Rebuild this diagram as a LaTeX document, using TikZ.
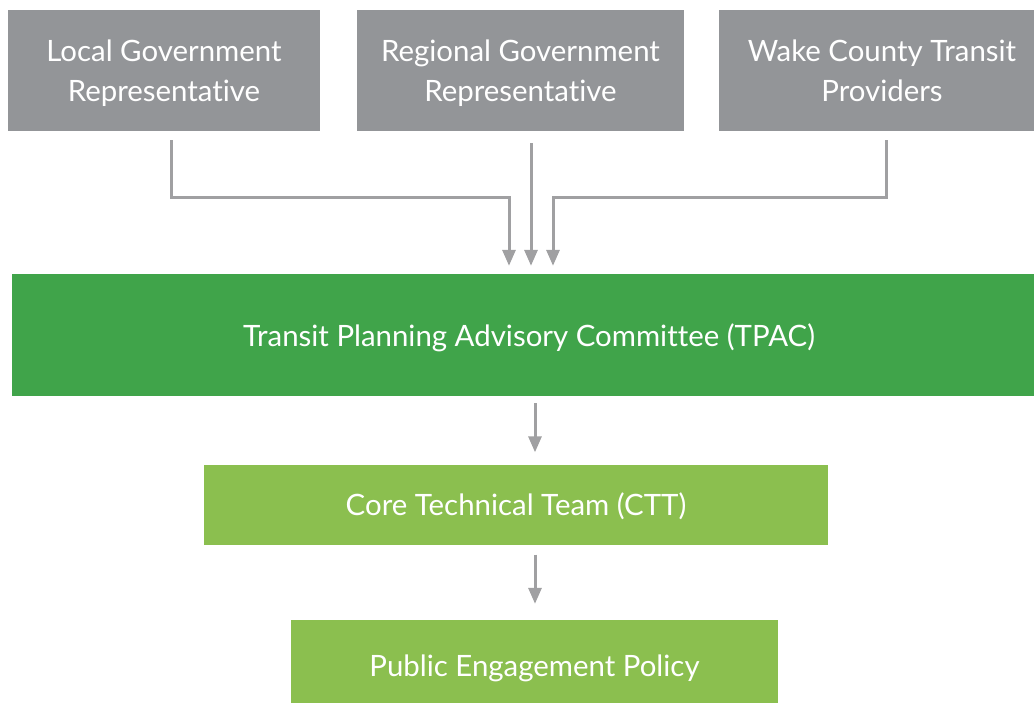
\documentclass[tikz,border=0pt]{standalone}
\usepackage{fontspec}
\setmainfont{Lato}[Ligatures=NoCommon]
\usepackage{xcolor}
\usepackage{tikz}
\usetikzlibrary{arrows.meta}

\definecolor{boxgray}{HTML}{939598}
\definecolor{linegray}{HTML}{A0A0A2}
\definecolor{darkgreen}{HTML}{40A44A}
\definecolor{lightgreen}{HTML}{8BBF4F}

\begin{document}
\begin{tikzpicture}[x=1pt, y=-1pt,
  box/.style={fill=#1, text=white, inner sep=0pt, align=center, text depth=0pt,
    font=\fontsize{29.4}{40}\selectfont},
  arr/.style={draw=linegray, line width=3pt, -{Triangle[length=16pt,width=13pt]}}]

\useasboundingbox (0,0) rectangle (1034,702);

% top row
\node[box=boxgray, minimum width=312pt, minimum height=121pt] (local) at (164,70.5) {Local Government\\Representative};
\node[box=boxgray, minimum width=327pt, minimum height=121pt] (regional) at (520.5,70.5) {Regional Government\\Representative};
\node[box=boxgray, minimum width=326pt, minimum height=121pt] (wake) at (882,70.5) {Wake County Transit\\Providers};

\node[box=darkgreen, minimum width=1034pt, minimum height=122pt] (tpac) at (529,335) {Transit Planning Advisory Committee (TPAC)};
\node[box=lightgreen, minimum width=624pt, minimum height=80pt] (ctt) at (516,504.5) {Core Technical Team (CTT)};
\node[box=lightgreen, minimum width=487pt, minimum height=92pt] (pep) at (534.5,666) {Public Engagement Policy};

\coordinate (j1) at (509,197);
\coordinate (j3) at (553,197);

\path[arr, shorten <=9pt, shorten >=8pt] ([xshift=7pt]local.south) |- (j1) -- (j1 |- tpac.north);
\path[arr, shorten <=12pt, shorten >=8pt] ([xshift=10.5pt]regional.south) -- ([xshift=10.5pt]regional.south |- tpac.north);
\path[arr, shorten <=9pt, shorten >=8pt] ([xshift=4pt]wake.south) |- (j3) -- (j3 |- tpac.north);

\path[arr, shorten <=7pt, shorten >=12pt] ([xshift=6pt]tpac.south) -- ([xshift=6pt]tpac.south |- ctt.north);
\path[arr, shorten <=10pt, shorten >=16pt] ([xshift=19pt]ctt.south) -- ([xshift=19pt]ctt.south |- pep.north);

\end{tikzpicture}
\end{document}
